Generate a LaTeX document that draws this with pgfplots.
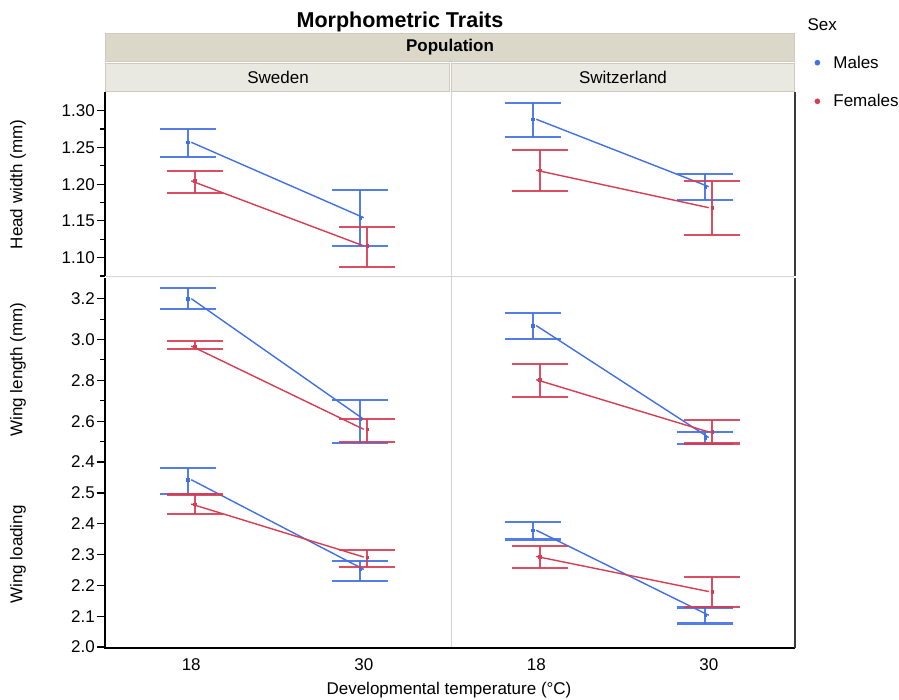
\documentclass[border=0pt]{standalone}
\usepackage{fontspec}
\setmainfont{Liberation Sans}
\usepackage{pgfplots}
\pgfplotsset{compat=1.18}
\usepackage{pgfplotstable}

\definecolor{mblue}{RGB}{64,112,228}
\definecolor{fred}{RGB}{214,60,82}
\definecolor{stripA}{RGB}{219,216,201}
\definecolor{stripB}{RGB}{233,232,225}
\definecolor{stripE}{RGB}{206,203,188}
\definecolor{divgray}{RGB}{212,212,212}
\definecolor{rdark}{RGB}{58,58,58}

\newcommand{\labfont}{\fontsize{17}{20}\selectfont}

% c = category (0 = 18 C, 1 = 30 C), xj = jittered position of the mean and its bar
\pgfplotstableread{
c xj y lo hi
0 -0.021 1.2570 1.2366 1.2750
1 0.979 1.1544 1.1155 1.1920
}\hwSwM
\pgfplotstableread{
c xj y lo hi
0 0.021 1.2044 1.1884 1.2184
1 1.021 1.1160 1.0873 1.1420
}\hwSwF
\pgfplotstableread{
c xj y lo hi
0 -0.021 1.2883 1.2646 1.3100
1 0.979 1.1966 1.1785 1.2143
}\hwChM
\pgfplotstableread{
c xj y lo hi
0 0.021 1.2189 1.1912 1.2470
1 1.021 1.1680 1.1305 1.2048
}\hwChF
\pgfplotstableread{
c xj y lo hi
0 -0.021 3.200 3.148 3.251
1 0.979 2.609 2.495 2.705
}\wlSwM
\pgfplotstableread{
c xj y lo hi
0 0.021 2.968 2.952 2.994
1 1.021 2.560 2.498 2.612
}\wlSwF
\pgfplotstableread{
c xj y lo hi
0 -0.021 3.068 3.004 3.131
1 0.979 2.520 2.488 2.548
}\wlChM
\pgfplotstableread{
c xj y lo hi
0 0.021 2.803 2.720 2.878
1 1.021 2.547 2.491 2.606
}\wlChF
\pgfplotstableread{
c xj y lo hi
0 -0.021 2.543 2.498 2.581
1 0.979 2.252 2.214 2.280
}\ldSwM
\pgfplotstableread{
c xj y lo hi
0 0.021 2.464 2.431 2.495
1 1.021 2.292 2.261 2.315
}\ldSwF
\pgfplotstableread{
c xj y lo hi
0 -0.021 2.379 2.349 2.405
1 0.979 2.103 2.076 2.128
}\ldChM
\pgfplotstableread{
c xj y lo hi
0 0.021 2.294 2.257 2.327
1 1.021 2.180 2.130 2.228
}\ldChF

\pgfplotsset{
  panel/.style={
    scale only axis, width=345pt, height=185pt, anchor=south west,
    xmin=-0.5, xmax=1.5,
    axis line style={draw=none},
    ytick pos=left, xtick pos=bottom,
    tick align=outside,
    major tick length=8pt, minor tick length=5pt,
    every tick/.style={black, line width=1.1pt},
    tick label style={font=\labfont},
    yticklabel style={inner sep=2pt},
    /pgf/number format/assume math mode=true,
  },
  meanline/.style={line width=1.4pt},
  bars/.style={only marks, mark=square*, mark size=1.3pt,
    error bars/.cd, y dir=both, y explicit,
    error bar style={line width=1.8pt, opacity=0.9},
    error mark options={rotate=90, line width=2.2pt, mark size=28pt, opacity=0.9}},
}

\newcommand{\series}[2]{%
  \addplot[#2, meanline] table[x=c, y=y] {#1};
  \addplot[#2, bars] table[x=xj, y=y,
     y error plus expr=\thisrow{hi}-\thisrow{y},
     y error minus expr=\thisrow{y}-\thisrow{lo}] {#1};
}

\begin{document}
\begin{tikzpicture}
\useasboundingbox (0pt,0pt) rectangle (899pt,-700pt);

% ---------- strips and title ----------
\fill[stripA] (105pt,-33pt) rectangle (795pt,-62pt);
\draw[stripE, line width=0.8pt] (105.5pt,-33.5pt) rectangle (794.5pt,-61.5pt);
\fill[stripB] (105pt,-63pt) rectangle (450pt,-92pt);
\fill[stripB] (451pt,-63pt) rectangle (795pt,-92pt);
\draw[stripE, line width=0.8pt] (105.5pt,-63.5pt) rectangle (449.5pt,-91.5pt);
\draw[stripE, line width=0.8pt] (451.5pt,-63.5pt) rectangle (794.5pt,-91.5pt);
\node[font=\fontsize{21.5}{24}\selectfont\bfseries] at (400pt,-22pt) {Morphometric Traits};
\node[font=\labfont\bfseries] at (450pt,-47.5pt) {Population};
\node[font=\labfont] at (278pt,-77.5pt) {Sweden};
\node[font=\labfont] at (623pt,-77.5pt) {Switzerland};

% ---------- row 1: head width ----------
\begin{axis}[panel, at={(105pt,-277pt)}, ymin=1.0737, ymax=1.3254,
  xtick=\empty,
  ytick={1.10,1.15,1.20,1.25,1.30},
  minor ytick={1.075,1.125,1.175,1.225,1.275},
  yticklabel style={/pgf/number format/.cd, fixed, fixed zerofill, precision=2}]
  \series{\hwSwM}{mblue}
  \series{\hwSwF}{fred}
\end{axis}
\begin{axis}[panel, at={(450pt,-277pt)}, ymin=1.0737, ymax=1.3254,
  xtick=\empty, ytick=\empty,
  legend style={at={(axis description cs:1,1)}, anchor=west,
    xshift=19.4pt, yshift=10pt, draw=none, fill=none, inner sep=0pt,
    row sep=24.8pt, font=\labfont, nodes={inner sep=0pt}},
  legend cell align=left,
  legend image code/.code={\fill (0pt,0pt) circle (2.6pt); \path[draw=none,fill=none] (-2.6pt,0pt) -- (16pt,0pt);},
  legend entries={Males,Females}]
  \addlegendimage{mblue}
  \addlegendimage{fred}
  \series{\hwChM}{mblue}
  \series{\hwChF}{fred}
\end{axis}

% ---------- row 2: wing length ----------
\begin{axis}[panel, at={(105pt,-462pt)}, ymin=2.4, ymax=3.306,
  xtick=\empty,
  ytick={2.4,2.6,2.8,3.0,3.2},
  minor ytick={2.5,2.7,2.9,3.1},
  yticklabel style={/pgf/number format/.cd, fixed, fixed zerofill, precision=1}]
  \series{\wlSwM}{mblue}
  \series{\wlSwF}{fred}
\end{axis}
\begin{axis}[panel, at={(450pt,-462pt)}, ymin=2.4, ymax=3.306,
  xtick=\empty, ytick=\empty]
  \series{\wlChM}{mblue}
  \series{\wlChF}{fred}
\end{axis}

% ---------- row 3: wing loading ----------
\begin{axis}[panel, at={(105pt,-647pt)}, ymin=2.0, ymax=2.6006,
  xtick={0,1}, xticklabels={18,30}, xtick style={draw=none},
  ytick={2.0,2.1,2.2,2.3,2.4,2.5},
  yticklabel style={/pgf/number format/.cd, fixed, fixed zerofill, precision=1}]
  \series{\ldSwM}{mblue}
  \series{\ldSwF}{fred}
\end{axis}
\begin{axis}[panel, at={(450pt,-647pt)}, ymin=2.0, ymax=2.6006,
  xtick={0,1}, xticklabels={18,30}, xtick style={draw=none},
  ytick=\empty]
  \series{\ldChM}{mblue}
  \series{\ldChF}{fred}
\end{axis}

% ---------- frame ----------
\draw[divgray, line width=1pt] (451pt,-92pt) -- (451pt,-647pt);
\draw[divgray, line width=1pt] (106pt,-277pt) -- (794pt,-277pt);
\draw[black, line width=1.6pt] (105pt,-92pt) -- (105pt,-276pt);
\draw[black, line width=1.6pt] (105pt,-278pt) -- (105pt,-648pt);
\draw[black, line width=1.6pt] (104.2pt,-648pt) -- (795pt,-648pt);
\draw[rdark, line width=2.6pt] (795pt,-92pt) -- (795pt,-276pt);
\draw[rdark, line width=2.6pt] (795pt,-278pt) -- (795pt,-648pt);

% ---------- labels ----------
\node[font=\labfont, rotate=90] at (18pt,-184.5pt) {Head width (mm)};
\node[font=\labfont, rotate=90] at (18pt,-369.5pt) {Wing length (mm)};
\node[font=\labfont, rotate=90] at (18pt,-554.5pt) {Wing loading};
\node[font=\labfont] at (449pt,-690pt) {Developmental temperature (°C)};
\node[font=\labfont, anchor=west] at (804pt,-25pt) {Sex};
\end{tikzpicture}
\end{document}
